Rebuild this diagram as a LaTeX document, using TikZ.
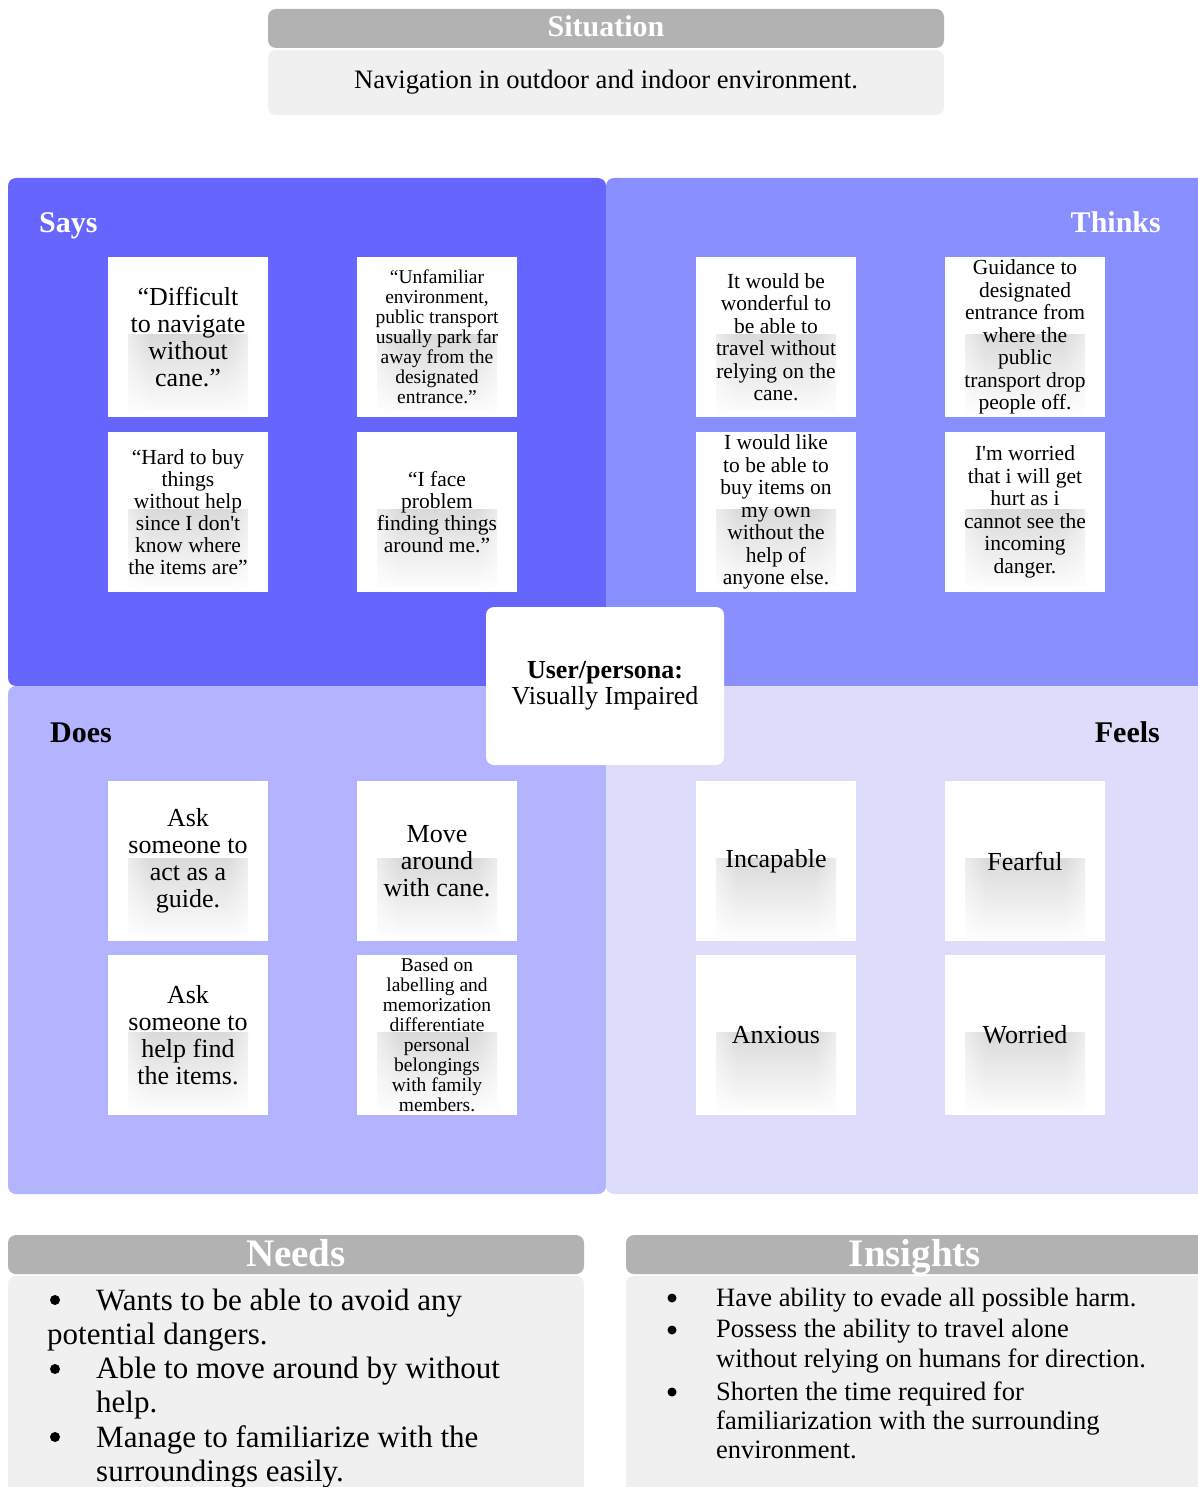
\documentclass[tikz,border=0pt]{standalone}
\usepackage{fontspec}
\setmainfont{Liberation Serif}
\usepackage{xcolor}
\usetikzlibrary{fadings}
\definecolor{titregris}{HTML}{B2B2B2}
\definecolor{fondgris}{HTML}{EFF0EF}
\definecolor{says}{HTML}{6666FF}
\definecolor{thinks}{HTML}{8A8FFF}
\definecolor{does}{HTML}{B3B3FF}
\definecolor{feels}{HTML}{DDDDFB}
\pgfdeclarehorizontalshading{ombrecarte}{100bp}{color(0bp)=(white); color(25bp)=(white); color(38bp)=(black!28); color(62bp)=(black!28); color(75bp)=(white); color(100bp)=(white)}
\newcommand{\fs}[2]{\fontsize{#1}{#2}\selectfont}

\begin{document}
\begin{tikzpicture}[x=1pt, y=-1pt,
  carte/.style={fill=white, minimum width=160pt, minimum height=160pt, inner sep=0pt, align=center, font=\fs{26}{27},
    path picture={\fill[shading=ombrecarte, path fading=south] ([xshift=20pt,yshift=5pt]path picture bounding box.south west) rectangle ([xshift=-20pt,yshift=2pt]path picture bounding box.east);}},
  titre/.style={font=\bfseries\fs{30}{30}, inner sep=0pt},
  puce/.style={circle, fill=black, inner sep=0pt, minimum size=10pt},
  ligne/.style={anchor=base west, inner sep=0pt}]
\useasboundingbox (0,0) rectangle (1198,1487);

% Situation
\fill[titregris, rounded corners=8pt] (268,9) rectangle (944,48);
\fill[fondgris, rounded corners=8pt] (268,50) rectangle (944,115);
\node[titre, white, anchor=base] (situation) at (606,37) {Situation};
\node[anchor=base, inner sep=0pt, font=\fs{26.6}{26}] (contexte) at (606,89) {Navigation in outdoor and indoor environment.};

% Quatre quadrants
\fill[says, rounded corners=8pt] (8,178) rectangle (606,686);
\fill[thinks, rounded corners=8pt] (606,178) rectangle (1210,686);
\fill[does, rounded corners=8pt] (8,686) rectangle (606,1194);
\fill[feels, rounded corners=8pt] (606,686) rectangle (1210,1194);

% Titres des quadrants
\node[titre, white, anchor=base west] (says) at (39,233) {Says};
\node[titre, white, anchor=base east] (thinks) at (1161,233) {Thinks};
\node[titre, anchor=base west] (does) at (50,742) {Does};
\node[titre, anchor=base east] (feels) at (1160,742) {Feels};

% Says
\node[carte] (s1) at (188,337) {“Difficult\\to navigate\\without\\cane.”};
\node[carte, font=\fs{19.5}{20}] (s2) at (437,337) {“Unfamiliar\\environment,\\public transport\\usually park far\\away from the\\designated\\entrance.”};
\node[carte, font=\fs{21.5}{22}] (s3) at (188,512) {“Hard to buy\\things\\without help\\since I don\textquotesingle t\\know where\\the items are”};
\node[carte, font=\fs{21.5}{22}] (s4) at (437,512) {“I face\\problem\\finding things\\around me.”};

% Thinks
\node[carte, font=\fs{21.5}{22.5}] (t1) at (776,337) {It would be\\wonderful to\\be able to\\travel without\\relying on the\\cane.};
\node[carte, font=\fs{21.5}{22.5}] (t2) at (1025,337) {Guidance to\\designated\\entrance from\\where the\\public\\transport drop\\people off.};
\node[carte, font=\fs{21.5}{22.5}] (t3) at (776,512) {I would like\\to be able to\\buy items on\\my own\\without the\\help of\\anyone else.};
\node[carte, font=\fs{21.5}{22.5}] (t4) at (1025,512) {I\textquotesingle m worried\\that i will get\\hurt as i\\cannot see the\\incoming\\danger.};

% Does
\node[carte] (d1) at (188,861) {Ask\\someone to\\act as a\\guide.};
\node[carte] (d2) at (437,861) {Move\\around\\with cane.};
\node[carte] (d3) at (188,1035) {Ask\\someone to\\help find\\the items.};
\node[carte, font=\fs{19.5}{20}] (d4) at (437,1035) {Based on\\labelling and\\memorization\\differentiate\\personal\\belongings\\with family\\members.};

% Feels
\node[carte] (f1) at (776,861) {Incapable};
\node[carte] (f2) at (1025,861) {Fearful};
\node[carte] (f3) at (776,1035) {Anxious};
\node[carte] (f4) at (1025,1035) {Worried};

% Persona au centre
\node[fill=white, rounded corners=8pt, minimum width=238pt, minimum height=158pt, align=center, font=\fs{26}{26}] (persona) at (605,686) {\textbf{User/persona:}\\Visually Impaired};

% Needs
\fill[titregris, rounded corners=8pt] (8,1235) rectangle (584,1274);
\fill[fondgris, rounded corners=8pt] (8,1276) rectangle (584,1500);
\node[titre, white, anchor=base, font=\bfseries\fs{39}{39}] (needs) at (296,1266) {Needs};
\begin{scope}[font=\fs{31}{34}]
\node[puce] (np1) at (55,1300) {};
\node[ligne] (n1a) at (96,1310) {Wants to be able to avoid any};
\node[ligne] (n1b) at (47,1344) {potential dangers.};
\node[puce] (np2) at (55,1369) {};
\node[ligne] (n2a) at (96,1378) {Able to move around by without};
\node[ligne] (n2b) at (96,1412) {help.};
\node[puce] (np3) at (55,1437) {};
\node[ligne] (n3a) at (96,1447) {Manage to familiarize with the};
\node[ligne] (n3b) at (96,1481) {surroundings easily.};
\end{scope}

% Insights
\fill[titregris, rounded corners=8pt] (626,1235) rectangle (1210,1274);
\fill[fondgris, rounded corners=8pt] (626,1276) rectangle (1210,1500);
\node[titre, white, anchor=base, font=\bfseries\fs{39}{39}] (insights) at (915,1266) {Insights};
\begin{scope}[font=\fs{26.5}{30}]
\node[puce, minimum size=9pt] (ip1) at (672,1298) {};
\node[ligne] (i1a) at (716,1306) {Have ability to evade all possible harm.};
\node[puce, minimum size=9pt] (ip2) at (672,1330) {};
\node[ligne] (i2a) at (716,1337) {Possess the ability to travel alone};
\node[ligne] (i2b) at (716,1367) {without relying on humans for direction.};
\node[puce, minimum size=9pt] (ip3) at (672,1392) {};
\node[ligne] (i3a) at (716,1400) {Shorten the time required for};
\node[ligne] (i3b) at (716,1429) {familiarization with the surrounding};
\node[ligne] (i3c) at (716,1458) {environment.};
\end{scope}
\end{tikzpicture}
\end{document}
